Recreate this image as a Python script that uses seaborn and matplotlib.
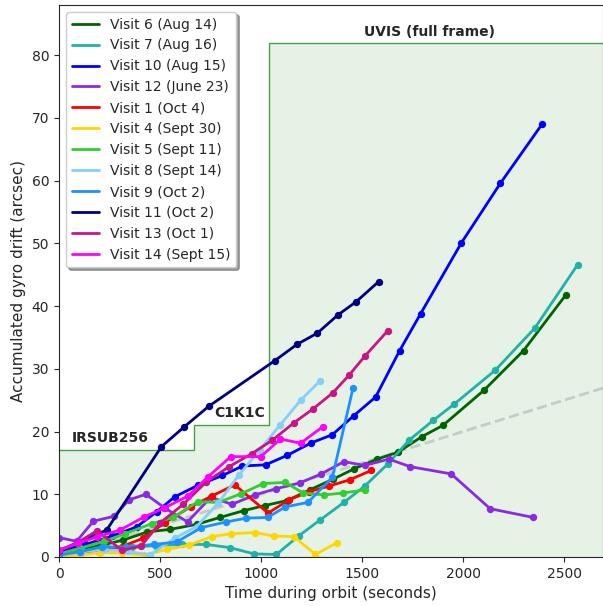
import numpy as np
import pandas as pd
import matplotlib
matplotlib.use("Agg")
import matplotlib.pyplot as plt
import seaborn as sns

# ---- data ----
labels = ["Visit 6 (Aug 14)", "Visit 7 (Aug 16)", "Visit 10 (Aug 15)", "Visit 12 (June 23)",
          "Visit 1 (Oct 4)", "Visit 4 (Sept 30)", "Visit 5 (Sept 11)", "Visit 8 (Sept 14)",
          "Visit 9 (Oct 2)", "Visit 11 (Oct 2)", "Visit 13 (Oct 1)", "Visit 14 (Sept 15)"]
colors = ["darkgreen", "lightseagreen", "blue", "blueviolet", "red", "gold", "limegreen",
          "lightskyblue", "dodgerblue", "navy", "mediumvioletred", "magenta"]

t_v6 = [0, 100, 194, 318, 437, 549, 681, 796, 916, 1018, 1129, 1241, 1356, 1460, 1574, 1677, 1797, 1901, 2104, 2299, 2509]
d_v6 = [0.8, 1.3, 1.75, 2.7, 4.0, 4.4, 5.2, 6.3, 7.4, 8.2, 9.0, 10.7, 12.4, 14.05, 15.6, 16.7, 19.2, 21.0, 26.6, 32.9, 41.8]

t_v7 = [0, 120, 240, 360, 480, 610, 730, 845, 965, 1076, 1186, 1290, 1410, 1513, 1628, 1732, 1853, 1957, 2160, 2355, 2567]
d_v7 = [0.5, 1.0, 1.4, 1.6, 1.8, 2.0, 2.0, 1.5, 0.5, 0.4, 3.35, 5.85, 8.7, 11.3, 14.85, 18.6, 21.8, 24.4, 29.8, 36.5, 46.6]

t_v10 = [0, 130, 260, 384, 483, 573, 686, 809, 908, 1023, 1129, 1249, 1353, 1458, 1567, 1686, 1790, 1992, 2185, 2393]
d_v10 = [1.0, 2.0, 3.3, 4.8, 7.2, 9.6, 11.4, 13.0, 14.5, 14.7, 16.2, 18.2, 19.5, 22.5, 25.5, 32.9, 38.8, 50.1, 59.6, 69.1]

t_v12 = [0, 87, 170, 273, 346, 430, 524, 636, 751, 857, 969, 1076, 1191, 1295, 1410, 1513, 1633, 1738, 1941, 2134, 2348]
d_v12 = [3.1, 2.5, 5.7, 6.5, 9.1, 10.0, 7.8, 5.6, 9.5, 8.4, 9.9, 10.9, 11.8, 13.2, 15.2, 14.6, 15.6, 14.4, 13.25, 7.7, 6.3]

t_v1 = [0, 100, 194, 310, 417, 525, 651, 755, 870, 1035, 1138, 1236, 1336, 1438, 1546]
d_v1 = [0.3, 0.6, 1.0, 1.65, 3.0, 5.5, 8.0, 9.7, 11.5, 7.0, 9.1, 10.4, 11.3, 12.3, 13.8]

t_v4 = [0, 104, 203, 310, 420, 535, 644, 755, 850, 969, 1063, 1163, 1269, 1377]
d_v4 = [0.1, 0.3, 0.7, 0.6, 0.3, 1.2, 1.9, 3.25, 3.7, 3.9, 3.35, 3.25, 0.4, 2.3]

t_v5 = [0, 104, 224, 326, 458, 565, 686, 788, 903, 1010, 1120, 1208, 1312, 1406, 1513]
d_v5 = [0.5, 1.4, 2.5, 3.7, 5.3, 6.3, 8.8, 8.7, 10.1, 11.7, 11.9, 10.2, 9.9, 10.2, 10.7]

t_v8 = [0, 110, 225, 340, 450, 573, 681, 788, 891, 994, 1096, 1196, 1290]
d_v8 = [0.3, 0.8, 1.2, 0.9, 0.3, 3.0, 4.85, 8.6, 13.1, 17.1, 21.1, 25.0, 28.0]

t_v9 = [0, 104, 211, 330, 469, 583, 705, 829, 928, 1032, 1121, 1232, 1353, 1455]
d_v9 = [0.3, 0.85, 1.6, 1.6, 2.0, 2.4, 4.7, 5.6, 6.2, 6.3, 8.0, 8.7, 12.7, 26.9]

t_v11 = [0, 236, 507, 618, 740, 1068, 1178, 1279, 1381, 1471, 1582]
d_v11 = [1.0, 4.3, 17.6, 20.7, 24.0, 31.3, 33.9, 35.7, 38.6, 40.7, 43.9]

t_v13 = [0, 87, 189, 310, 405, 499, 615, 730, 842, 953, 1055, 1163, 1257, 1356, 1436, 1516, 1628]
d_v13 = [1.0, 2.2, 4.2, 1.1, 1.7, 5.4, 8.4, 12.0, 14.4, 16.45, 18.6, 21.4, 23.6, 26.2, 29.0, 32.1, 36.1]

t_v14 = [0, 96, 186, 302, 422, 521, 640, 738, 850, 999, 1096, 1196, 1307]
d_v14 = [1.1, 2.2, 3.2, 4.3, 6.4, 7.8, 9.75, 12.8, 16.0, 16.0, 18.8, 18.15, 20.8]

times = [t_v6, t_v7, t_v10, t_v12, t_v1, t_v4, t_v5, t_v8, t_v9, t_v11, t_v13, t_v14]
drifts = [d_v6, d_v7, d_v10, d_v12, d_v1, d_v4, d_v5, d_v8, d_v9, d_v11, d_v13, d_v14]

# subarray limits (step boundary)
region_x = [0, 668, 668, 1040, 1040, 2700]
region_y = [17, 17, 21, 21, 82, 82]
region_names = ["IRSUB256", "C1K1C", "UVIS (full frame)"]

ref_x = [0, 2700]
ref_y = [0, 27]

# ---- plot ----
sns.set_style("ticks")
plt.rcParams["font.family"] = ["DejaVu Sans"]
fig = plt.figure(figsize=(6.03, 6.06), dpi=100)
ax = fig.add_axes([59 / 603, 1 - 557 / 606, 543.5 / 603, 552 / 606])

ax.fill_between(region_x, 0, region_y, color="green", alpha=0.1, lw=0, zorder=0)
ax.plot(region_x, region_y, color="green", alpha=0.7, lw=1, zorder=1)
ax.plot(ref_x, ref_y, color="silver", ls="--", lw=2, alpha=0.8, zorder=1.5)

for t, d, lab, c in zip(times, drifts, labels, colors):
    df = pd.DataFrame({"t": t, "d": d})
    sns.lineplot(data=df, x="t", y="d", color=c, lw=2, sort=False, estimator=None,
                 label=lab, ax=ax, zorder=2)
    sns.scatterplot(data=df, x="t", y="d", color=c, s=28, linewidth=0, ax=ax,
                    legend=False, zorder=2)

ax.text(65, 17.8, region_names[0], fontsize=10, fontweight="bold", ha="left", va="bottom")
ax.text(1020, 21.9, region_names[1], fontsize=10, fontweight="bold", ha="right", va="bottom")
ax.text(1835, 82.6, region_names[2], fontsize=10, fontweight="bold", ha="center", va="bottom")

ax.set_xlim(0, 2690)
ax.set_ylim(0, 88)
ax.set_xticks([0, 500, 1000, 1500, 2000, 2500])
ax.set_yticks([0, 10, 20, 30, 40, 50, 60, 70, 80])
ax.tick_params(labelsize=10)
ax.set_xlabel("Time during orbit (seconds)", fontsize=11)
ax.set_ylabel("Accumulated gyro drift (arcsec)", fontsize=11)
ax.legend(loc="upper left", shadow=True, fontsize=10)

fig.savefig("out.png", dpi=100)
